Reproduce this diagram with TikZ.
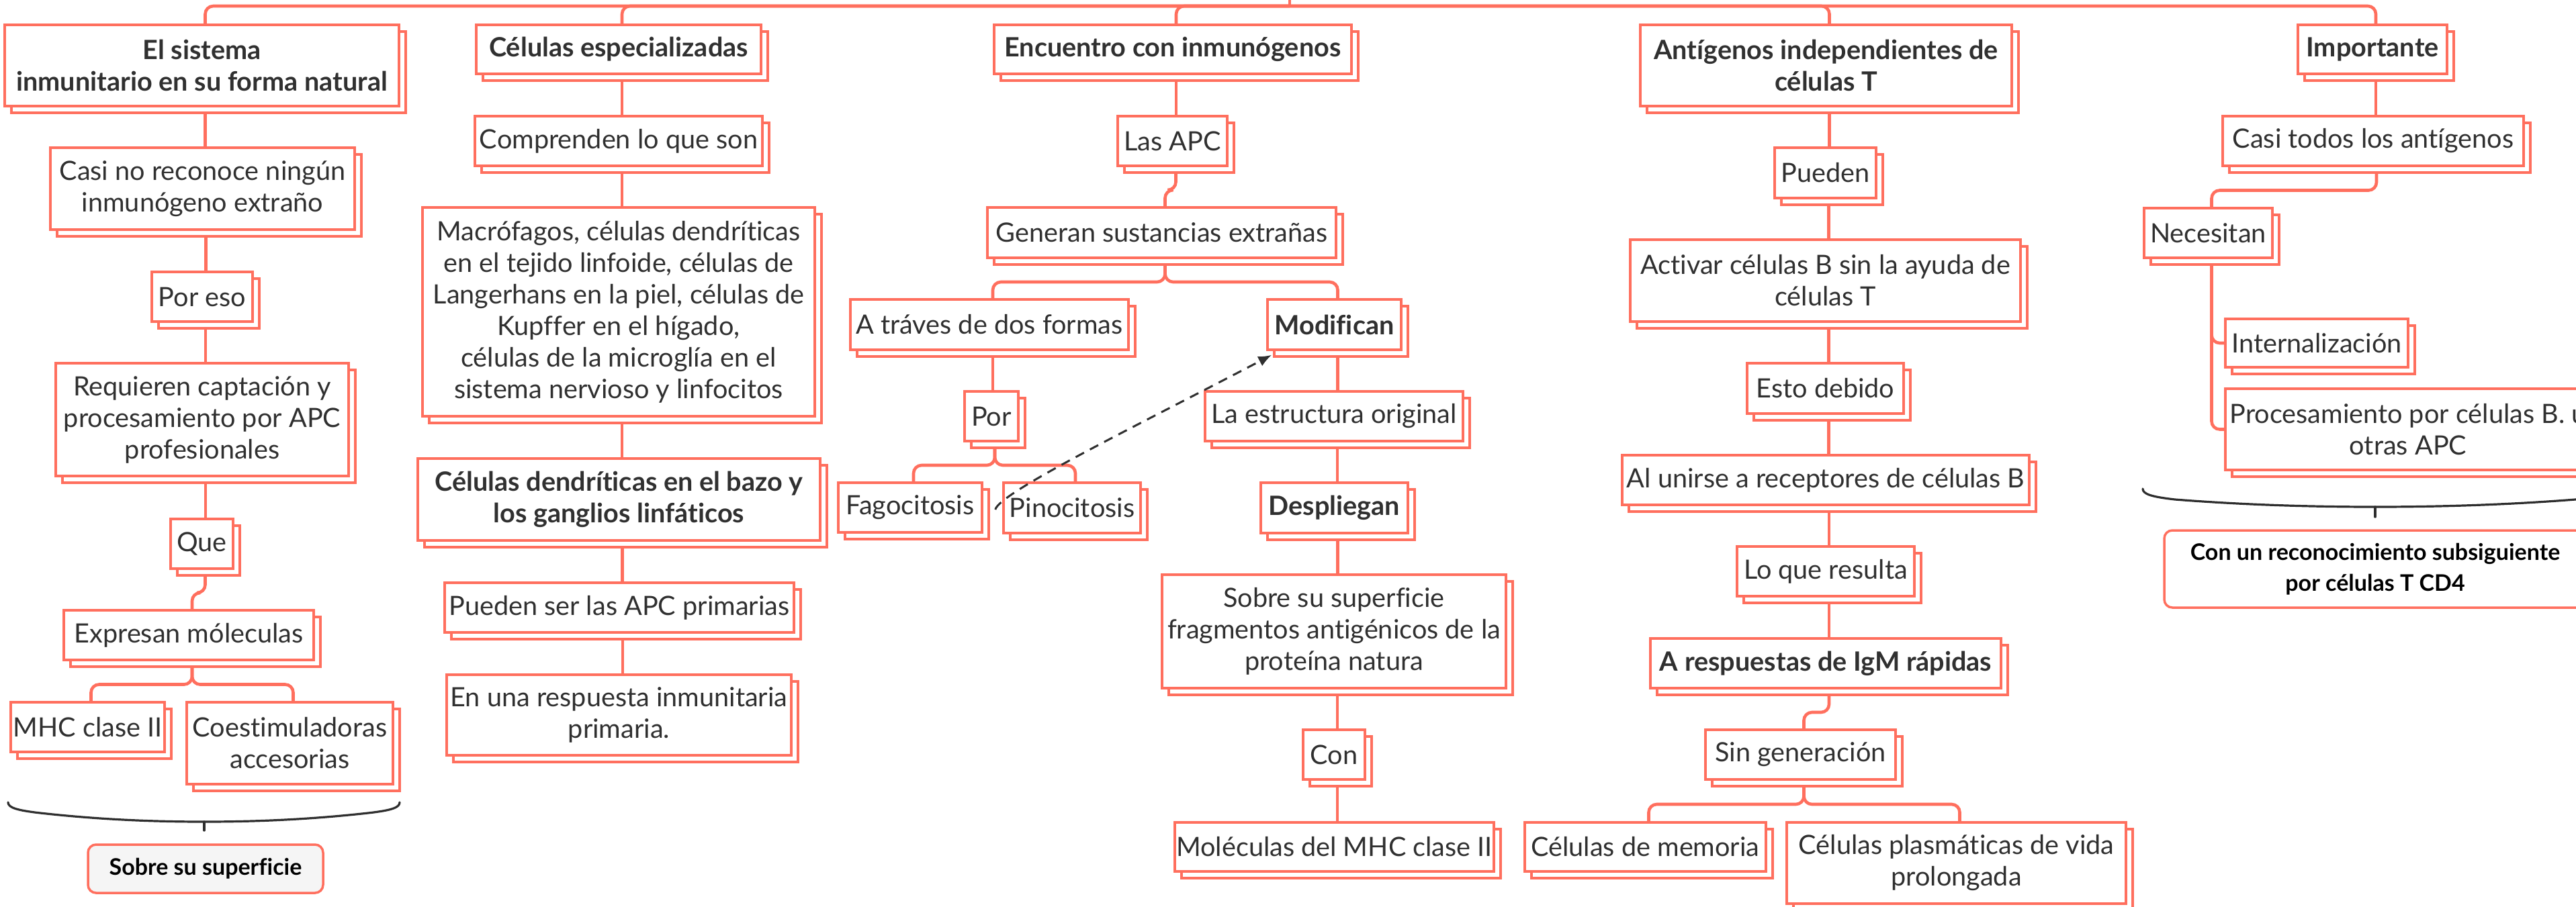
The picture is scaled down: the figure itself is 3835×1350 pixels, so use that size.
\documentclass[tikz,border=0pt]{standalone}
\usepackage{fontspec}
\setmainfont{Lato}[Ligatures=NoCommon]
\usetikzlibrary{shadows,backgrounds,calc,arrows.meta}
\pgfdeclarelayer{bgzero}
\pgfsetlayers{bgzero,background,main}
\definecolor{coral}{HTML}{FF6F5E}
\definecolor{txt}{HTML}{303030}
\definecolor{brc}{HTML}{2E2E2E}
\definecolor{sfill}{HTML}{F5F5F5}
\tikzset{
  box/.style={draw=coral, line width=1.75pt, fill=white, text=txt, align=center, inner sep=0pt,
    font=\fontsize{19.8}{23.5}\selectfont,
    general shadow={draw=coral, fill=white, line width=1.75pt, shadow xshift=5pt, shadow yshift=-5pt}},
  bbox/.style={box, font=\fontsize{19.8}{23.5}\selectfont\bfseries},
  note/.style={draw=coral, line width=1.75pt, rounded corners=6pt, align=center, inner sep=0pt, text=black,
    font=\fontsize{17}{23}\selectfont\bfseries},
  conn/.style={draw=coral, line width=2.3pt, rounded corners=6pt},
  dasharrow/.style={draw=txt, line width=1.5pt, dash pattern=on 7pt off 5pt, -{Latex[length=10pt,width=8pt]}},
  bracel/.style={draw=brc, line width=1.6pt, line cap=round}
}
\newcommand\mkbox[7][box]{\node[#1, minimum width={(#5-#3)*0.5pt}, minimum height={(#6-#4)*0.5pt}] (#2) at ({(#3+#5)/2},{(#4+#6)/2}) {#7};}
\newcommand\vlink[2]{\draw[conn] let \p1=($(#1.south)+(5,0)$), \p2=(#2.north) in (\p1) -- (\x1,\y2);}
\newcommand\jlink[2]{\draw[conn] let \p1=($(#1.south)+(5,0)$), \p2=($(#2.north)+(5,0)$) in (\p1) -- (\x1,{0.5*\y1+0.5*\y2-2.5pt}) -| (\p2);}
\begin{document}
\begin{tikzpicture}[x=0.5pt,y=-0.5pt]
\useasboundingbox (0,0) rectangle (3835,1350);
\begin{pgfonlayer}{bgzero}
\fill[white] (0,0) rectangle (3835,1350);
\end{pgfonlayer}
% column 1
\mkbox[bbox]{sys}{7}{37}{594}{158}{El sistema\\inmunitario en su forma natural}
\mkbox{casi}{75}{220}{528}{342}{Casi no reconoce ningún\\inmunógeno extraño}
\mkbox{poreso}{226}{405}{376}{479}{Por eso}
\mkbox{req}{83}{541}{519}{709}{Requieren captación y\\procesamiento por APC\\profesionales}
\mkbox{que}{254}{773}{347}{847}{Que}
\mkbox{expr}{95}{909}{467}{983}{Expresan móleculas}
\mkbox{mhc}{16}{1046}{245}{1120}{MHC clase II}
\mkbox{coest}{278}{1046}{585}{1168}{Coestimuladoras\\accesorias}
\mkbox[note,fill=sfill]{sobreA}{131}{1258}{481}{1330}{Sobre su superficie}
% column 2
\mkbox[bbox]{cesp}{709}{37}{1133}{110}{Células especializadas}
\mkbox{comp}{707}{173}{1135}{247}{Comprenden lo que son}
\mkbox{macro}{629}{309}{1213}{620}{Macrófagos, células dendríticas\\en el tejido linfoide, células de\\Langerhans en la piel, células de\\Kupffer en el hígado,\\células de la microglía en el\\sistema nervioso y linfocitos}
\mkbox[bbox]{cdend}{622}{683}{1221}{805}{Células dendríticas en el bazo y\\los ganglios linfáticos}
\mkbox{pueden}{662}{868}{1182}{942}{Pueden ser las APC primarias}
\mkbox{enuna}{665}{1005}{1178}{1125}{En una respuesta inmunitaria\\primaria.}
% column 3
\mkbox[bbox]{enc}{1480}{37}{2012}{110}{Encuentro con inmunógenos}
\mkbox{lasapc}{1664}{173}{1827}{247}{Las APC}
\mkbox{gen}{1470}{309}{1989}{384}{Generan sustancias extrañas}
\mkbox{atra}{1266}{446}{1680}{521}{A tráves de dos formas}
\mkbox[bbox]{modif}{1887}{446}{2086}{521}{Modifican}
\mkbox{por}{1436}{583}{1516}{657}{Por}
\mkbox{estr}{1794}{583}{2178}{657}{La estructura original}
\mkbox{fago}{1248}{719}{1462}{793}{Fagocitosis}
\mkbox{pino}{1494}{719}{1698}{794}{Pinocitosis}
\mkbox[bbox]{despl}{1877}{719}{2096}{794}{Despliegan}
\mkbox{sobreB}{1730}{856}{2242}{1025}{Sobre su superficie\\fragmentos antigénicos de la\\proteína natura}
\mkbox{con}{1940}{1087}{2032}{1161}{Con}
\mkbox{molec}{1749}{1225}{2224}{1298}{Moléculas del MHC clase II}
% column 4
\mkbox[bbox]{anti}{2442}{37}{2995}{158}{Antígenos independientes de\\células T}
\mkbox{pued}{2642}{220}{2793}{295}{Pueden}
\mkbox{activ}{2427}{357}{3008}{479}{Activar células B sin la ayuda de\\células T}
\mkbox{esto}{2601}{541}{2834}{616}{Esto debido}
\mkbox{alun}{2415}{678}{3021}{752}{Al unirse a receptores de células B}
\mkbox{loque}{2586}{814}{2850}{888}{Lo que resulta}
\mkbox[bbox]{aresp}{2457}{951}{2979}{1025}{A respuestas de IgM rápidas}
\mkbox{singen}{2539}{1087}{2822}{1161}{Sin generación}
\mkbox{celmem}{2270}{1225}{2629}{1298}{Células de memoria}
\mkbox{celpla}{2660}{1225}{3165}{1346}{Células plasmáticas de vida\\prolongada}
% column 5
\mkbox[bbox]{imp}{3421}{37}{3643}{110}{Importante}
\mkbox{casit}{3309}{173}{3757}{247}{Casi todos los antígenos}
\mkbox{nec}{3192}{310}{3383}{384}{Necesitan}
\mkbox{intern}{3313}{475}{3585}{547}{Internalización}
\mkbox{proc}{3313}{579}{3857}{700}{Procesamiento por células B. u\\otras APC}
\mkbox[note,fill=white]{conun}{3222}{790}{3850}{905}{Con un reconocimiento subsiguiente\\por células T CD4}
% braces
\draw[bracel] (12,1195) .. controls (12,1203) and (25,1207) .. (60,1211) .. controls (150,1221) and (230,1224) .. (304,1224) .. controls (378,1224) and (458,1221) .. (548,1211) .. controls (583,1207) and (595,1203) .. (595,1195);
\draw[bracel] (304,1224) -- (304,1237);
\draw[bracel] (3190,728) .. controls (3190,736) and (3203,740) .. (3238,744) .. controls (3340,752) and (3440,755) .. (3536,755) .. controls (3632,755) and (3732,752) .. (3834,744) .. controls (3869,740) and (3882,736) .. (3882,728);
\draw[bracel] (3536,755) -- (3536,770);
% dashed arrow
\draw[dasharrow] ($(fago.east)+(18,3)$) .. controls ($(fago.east)+(24,-22)$) and ($(modif.south west)+(-200,115)$) .. ($(modif.south west)+(8,6)$);
% connectors
\coordinate (root) at (1920,-40);
\coordinate (hub) at (1920,9);
\begin{pgfonlayer}{background}
\draw[conn] (root) -- (hub);
\foreach \n in {sys,cesp,enc,anti,imp} {\draw[conn] (hub) -| ($(\n.north)+(5,0)$);}
\vlink{sys}{casi}
\vlink{casi}{poreso}
\vlink{poreso}{req}
\vlink{req}{que}
\jlink{que}{expr}
\jlink{expr}{mhc}
\jlink{expr}{coest}
\vlink{cesp}{comp}
\vlink{comp}{macro}
\vlink{macro}{cdend}
\vlink{cdend}{pueden}
\vlink{pueden}{enuna}
\vlink{enc}{lasapc}
\jlink{lasapc}{gen}
\jlink{gen}{atra}
\jlink{gen}{modif}
\vlink{atra}{por}
\jlink{por}{fago}
\jlink{por}{pino}
\vlink{modif}{estr}
\vlink{estr}{despl}
\vlink{despl}{sobreB}
\vlink{sobreB}{con}
\vlink{con}{molec}
\vlink{anti}{pued}
\vlink{pued}{activ}
\vlink{activ}{esto}
\vlink{esto}{alun}
\vlink{alun}{loque}
\vlink{loque}{aresp}
\jlink{aresp}{singen}
\jlink{singen}{celmem}
\jlink{singen}{celpla}
\vlink{imp}{casit}
\jlink{casit}{nec}
\draw[conn] ($(nec.south)+(5,0)$) |- (intern.west);
\draw[conn] ($(nec.south)+(5,0)$) |- (proc.west);
\end{pgfonlayer}
\end{tikzpicture}
\end{document}
